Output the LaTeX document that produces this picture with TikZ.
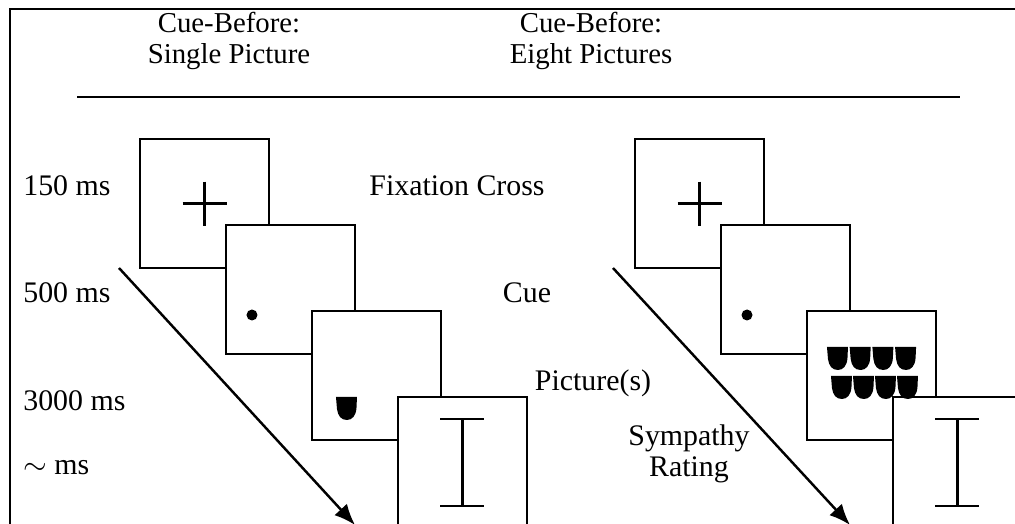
\documentclass[tikz,border=0pt]{standalone}
\usepackage{fontspec}
\setmainfont{Liberation Serif}
\usetikzlibrary{positioning, arrows.meta, calc}

\begin{document}
\begin{tikzpicture}[
        x=0.02cm, y=-0.02cm,
        font=\fontsize{17}{17.4}\selectfont,
        % one screen of the trial sequence
        screen/.style={
            draw=black,
            fill=white,
            line width=1.4pt,
            rectangle,
            minimum size=2.58cm,
            inner sep=0pt,
            outer sep=0pt
        },
        % next screen, shifted down and to the right
        nextscreen/.style={screen, below right=-0.86cm and -0.86cm of #1},
        % headings and phase names
        heading/.style={align=center, inner sep=0pt, font=\fontsize{16.4}{17.2}\selectfont},
        phase/.style={anchor=base, inner sep=0pt, align=center},
        timing/.style={anchor=base west, inner sep=0pt},
        % strokes inside a screen
        stim/.style={line width=1.4pt},
        arrow/.style={-{Latex[length=0.42cm, width=0.34cm]}, line width=1.4pt},
        % a small face picture
        mugshot/.pic={
            \fill (0,0) -- (21,0) -- (20.5,11) .. controls (20,19) and (16,23) .. (11,23)
                .. controls (5,23) and (2,19) .. (1,12) -- cycle;
        }
    ]

    \useasboundingbox (0,0) rectangle (1015,524);
    \clip (0,0) rectangle (1015,524);

    % outer frame and heading rule
    \draw[line width=1.4pt] (10,540) -- (10,9) -- (1030,9);
    \node[heading] (hsingle) at (229,41) {Cue-Before:\\Single Picture};
    \node[heading] (height) at (591,41) {Cue-Before:\\Eight Pictures};
    \coordinate (rule0) at (77,97);
    \coordinate (rule1) at (960,97);
    \draw[line width=1.5pt] (rule0) -- (rule1);

    % durations
    \node[timing] (t1) at (23,195) {150 ms};
    \node[timing] (t2) at (23,302) {500 ms};
    \node[timing] (t3) at (23,410) {3000 ms};
    \node[timing] (t4) at (23,474) {$\sim$ ms};

    % phase names
    \node[phase] (pfix) at (457,195) {Fixation Cross};
    \node[phase] (pcue) at (527,302) {Cue};
    \node[phase] (ppic) at (593,390) {Picture(s)};
    \node[phase] (prate) at (689,476) {Sympathy\\Rating};

    % --- single picture sequence ---
    \node[screen] (l1) at (204.5,203.5) {};
    \draw[stim] ($(l1.center)+(-22,0)$) -- ++(44,0) ($(l1.center)+(0,-22)$) -- ++(0,44);
    \node[nextscreen=l1] (l2) {};
    \fill ($(l2.north west)+(26,90)$) circle (0.11cm);
    \node[nextscreen=l2] (l3) {};
    \pic at ($(l3.north west)+(24,86)$) {mugshot};
    \node[nextscreen=l3] (l4) {};
    \draw[stim] ($(l4.north)+(-22,22)$) -- ++(44,0)
                ($(l4.north)+(-22,109)$) -- ++(44,0)
                ($(l4.north)+(0,22)$) -- ++(0,87);

    \coordinate (la0) at (119,268);
    \coordinate (la1) at (355,525);
    \draw[arrow] (la0) -- (la1);

    % --- eight pictures sequence ---
    \node[screen] (r1) at (699.5,203.5) {};
    \draw[stim] ($(r1.center)+(-22,0)$) -- ++(44,0) ($(r1.center)+(0,-22)$) -- ++(0,44);
    \node[nextscreen=r1] (r2) {};
    \fill ($(r2.north west)+(26,90)$) circle (0.11cm);
    \node[nextscreen=r2] (r3) {};
    \node[nextscreen=r3] (r4) {};
    \draw[stim] ($(r4.north)+(-22,22)$) -- ++(44,0)
                ($(r4.north)+(-22,109)$) -- ++(44,0)
                ($(r4.north)+(0,22)$) -- ++(0,87);
    \foreach \i in {0,...,3} {
        \pic at ($(r3.north west)+(20+22.7*\i,36)$) {mugshot};
        \pic at ($(r3.north west)+(24+22*\i,65)$) {mugshot};
    }

    \coordinate (ra0) at (613,268);
    \coordinate (ra1) at (850,525);
    \draw[arrow] (ra0) -- (ra1);

\end{tikzpicture}
\end{document}
